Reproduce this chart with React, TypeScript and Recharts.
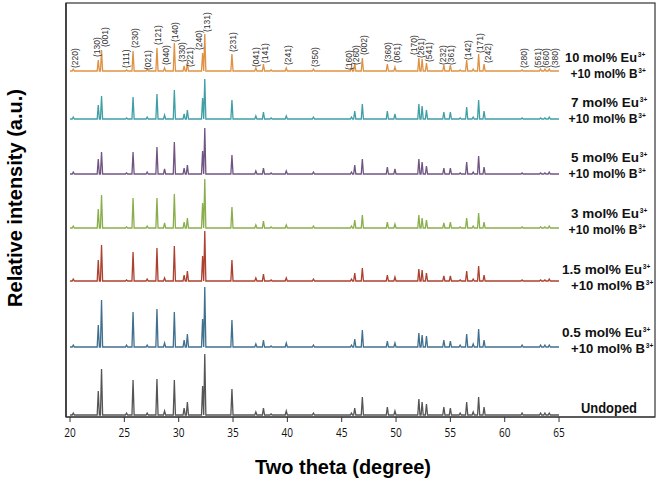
import { ComposedChart, Line, Scatter, XAxis, YAxis } from "recharts";

// peak positions (2 theta, degree)
const twoTheta = [20.3, 22.6, 22.9, 25.2, 25.8, 27.1, 28.0, 28.7, 29.6, 30.5, 30.8, 32.2, 32.4, 34.9, 37.1, 37.8, 38.5, 39.9, 42.4, 45.9, 46.2, 46.9, 49.2, 49.9, 52.1, 52.4, 52.8, 54.4, 55.0, 55.9, 56.5, 57.1, 57.6, 58.1, 61.6, 63.3, 63.7, 64.1];

// peak heights (a.u.) for each sample
const undoped = [2, 24, 46, 2, 35, 2, 36, 4, 35, 7, 13, 29, 61, 26, 3, 7, 1, 4, 2, 2, 7, 18, 8, 4, 16, 13, 11, 8, 7, 2, 13, 3, 18, 8, 2, 2, 2, 2];
const eu05 = [2, 22, 47, 2, 35, 2, 38, 4, 35, 7, 13, 28, 60, 27, 3, 7, 1, 4, 2, 2, 8, 17, 6, 4, 14, 12, 11, 7, 6, 2, 13, 3, 18, 7, 2, 2, 2, 2];
const eu15 = [2, 21, 36, 1, 29, 2, 33, 3, 35, 6, 10, 25, 50, 21, 3, 7, 1, 3, 2, 2, 8, 13, 6, 4, 12, 11, 8, 5, 5, 1, 10, 2, 15, 6, 1, 1, 1, 2];
const eu3 = [2, 19, 33, 1, 30, 2, 30, 5, 34, 6, 10, 25, 49, 21, 3, 7, 1, 3, 2, 2, 8, 13, 6, 4, 13, 10, 8, 5, 6, 1, 10, 2, 15, 6, 1, 1, 1, 2];
const eu5 = [2, 15, 22, 1, 22, 2, 27, 5, 32, 6, 9, 23, 46, 19, 3, 6, 1, 3, 2, 2, 9, 15, 7, 5, 15, 12, 8, 6, 6, 1, 12, 2, 18, 7, 1, 1, 1, 2];
const eu7 = [2, 14, 23, 1, 22, 2, 25, 4, 29, 5, 9, 21, 40, 19, 3, 7, 1, 3, 2, 2, 8, 15, 8, 5, 15, 13, 9, 7, 7, 1, 12, 2, 19, 8, 1, 1, 1, 2];
const eu10 = [2, 11, 21, 1, 20, 2, 23, 3, 28, 5, 8, 18, 37, 17, 3, 7, 1, 3, 2, 4, 8, 13, 7, 4, 13, 12, 8, 6, 6, 1, 11, 2, 17, 7, 1, 2, 2, 2];

// vertical offsets of the stacked patterns (a.u.)
const offsets = [2, 70, 136, 189, 243, 298, 346];

// Miller indices over the top pattern
const hkl = ["(220)", "(130)", "(001)", "(111)", "(230)", "(021)", "(121)", "(040)", "(140)", "(330)", "(221)", "(240)", "(131)", "(231)", "(041)", "(141)", "(241)", "(350)", "(160)", "(260)", "(002)", "(360)", "(061)", "(170)", "(261)", "(541)", "(232)", "(361)", "(142)", "(171)", "(242)", "(280)", "(561)", "(660)", "(380)"];
const hklX = [20.46, 22.5, 23.2, 25.2, 25.98, 27.2, 28.1, 28.83, 29.66, 30.34, 31.04, 31.9, 32.58, 35.03, 37.1, 37.94, 40.09, 42.55, 45.65, 46.36, 47.08, 49.3, 50.15, 51.7, 52.36, 53.06, 54.35, 55.12, 56.6, 57.73, 58.5, 61.78, 63.1, 63.86, 64.63];
const hklY = [349, 360, 370, 349, 369, 347, 372, 352, 375, 355, 350, 367, 385, 365, 350, 354, 352, 350, 347, 352, 362, 355, 354, 362, 359, 355, 352, 352, 357, 364, 354, 349, 349, 349, 349];

const xTicks = [20, 25, 30, 35, 40, 45, 50, 55, 60, 65];

const FONT = "'Liberation Sans', Arial, sans-serif";
const HALF = 0.1;

const buildTrace = (heights: number[], offset: number) => {
  const pts = [{ x: 20, y: offset }];
  twoTheta.forEach((t, i) => {
    pts.push({ x: t - HALF, y: offset });
    pts.push({ x: t, y: offset + heights[i] });
    pts.push({ x: t + HALF, y: offset });
  });
  pts.push({ x: 65, y: offset });
  return pts;
};

const series = [
  { name: "Undoped", heights: undoped, color: "#555555" },
  { name: "0.5", heights: eu05, color: "#41708F" },
  { name: "1.5", heights: eu15, color: "#AC412F" },
  { name: "3", heights: eu3, color: "#8AAE4C" },
  { name: "5", heights: eu5, color: "#705582" },
  { name: "7", heights: eu7, color: "#3F9FA5" },
  { name: "10", heights: eu10, color: "#DF9244" },
];

const hklData = hkl.map((label, i) => ({ x: hklX[i], y: hklY[i], label }));

const HklLabel = (props: any) => {
  const { cx, cy, payload } = props;
  return (
    <text x={cx} y={cy} dy="0.33em" transform={`rotate(-90 ${cx} ${cy})`} fontSize={8.5} fill="#333" fontFamily={FONT}>
      {payload.label}
    </text>
  );
};

const XTick = (props: any) => {
  const { x, payload } = props;
  return (
    <text x={x} y={437} textAnchor="middle" fontSize={12} fill="#111" fontFamily="'Open Sans', sans-serif" textLength={11.5} lengthAdjust="spacingAndGlyphs">
      {payload.value}
    </text>
  );
};

// main text ends at r, superscript starts right after it
const SupLine = ({ r, y, len, text }: { r: number; y: number; len: number; text: string }) => (
  <>
    <text x={r} y={y} textAnchor="end" textLength={len} lengthAdjust="spacingAndGlyphs">
      {text}
    </text>
    <text x={r + 0.8} y={y - 5} fontSize={7.5} textLength={7.5} lengthAdjust="spacingAndGlyphs">
      3+
    </text>
  </>
);

const SampleLabel = ({ y, text, r1, l1, r2, l2 }: { y: number; text: string; r1: number; l1: number; r2: number; l2: number }) => (
  <g fontFamily={FONT} fontWeight="bold" fill="#111" fontSize={13.5}>
    <SupLine r={r1} y={y} len={l1} text={`${text} mol% Eu`} />
    <SupLine r={r2} y={y + 16} len={l2} text="+10 mol% B" />
  </g>
);

export default function App() {
  return (
    <div style={{ position: "absolute", left: 0, top: 0, width: 661, height: 487, background: "#fff" }}>
      <ComposedChart width={661} height={487} margin={{ top: 3, right: 6, bottom: 0, left: 0 }}>
        <XAxis
          type="number"
          dataKey="x"
          domain={[19.63, 73.83]}
          allowDataOverflow
          ticks={xTicks}
          tick={<XTick />}
          tickSize={5}
          height={70}
          axisLine={{ stroke: "#333", strokeWidth: 1.2 }}
          tickLine={{ stroke: "#333" }}
        />
        <YAxis type="number" dataKey="y" domain={[0, 414]} allowDataOverflow width={66} tick={false} tickLine={false} axisLine={{ stroke: "#333", strokeWidth: 1.5 }} />
        {series.map((s, i) => (
          <Line
            key={s.name}
            data={buildTrace(s.heights, offsets[i])}
            dataKey="y"
            type="linear"
            stroke={s.color}
            strokeWidth={1.3}
            dot={false}
            isAnimationActive={false}
          />
        ))}
        <Scatter data={hklData} dataKey="y" shape={<HklLabel />} isAnimationActive={false} />
      </ComposedChart>
      <svg width={661} height={487} style={{ position: "absolute", left: 0, top: 0, pointerEvents: "none" }}>
        <rect x={66} y={3} width={589} height={414} fill="none" stroke="#333" strokeWidth={1.2} />
        <SampleLabel y={61.5} text="10" r1={637} l1={72} r2={637.5} l2={67} />
        <SampleLabel y={106.5} text="7" r1={639} l1={68} r2={637.5} l2={69} />
        <SampleLabel y={161.5} text="5" r1={639} l1={68} r2={637.5} l2={69} />
        <SampleLabel y={217.5} text="3" r1={639} l1={68} r2={637.5} l2={69} />
        <SampleLabel y={273.5} text="1.5" r1={642} l1={80} r2={645} l2={74} />
        <SampleLabel y={336.5} text="0.5" r1={642} l1={80} r2={645} l2={74} />
        <text x={609} y={413} textAnchor="middle" fontFamily={FONT} fontWeight="bold" fontSize={14} fill="#111" textLength={56} lengthAdjust="spacingAndGlyphs">
          Undoped
        </text>
        <text x={343} y={474} textAnchor="middle" fontFamily={FONT} fontWeight="bold" fontSize={21} fill="#000" textLength={176} lengthAdjust="spacingAndGlyphs">
          Two theta (degree)
        </text>
        <text transform="translate(22,198) rotate(-90)" textAnchor="middle" fontFamily={FONT} fontWeight="bold" fontSize={20} fill="#000">
          Relative intensity (a.u.)
        </text>
      </svg>
    </div>
  );
}
